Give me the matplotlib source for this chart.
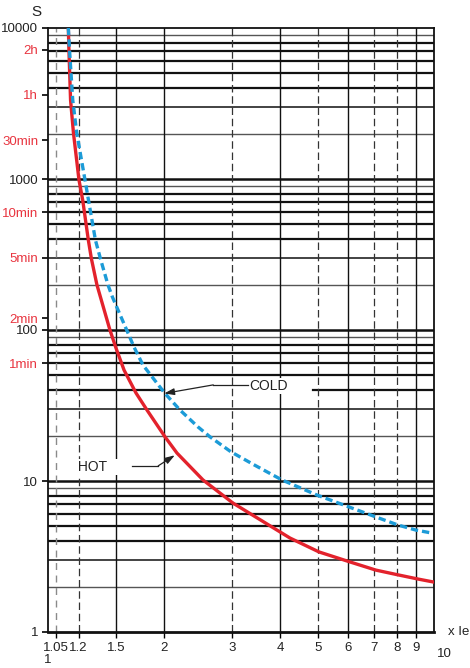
import matplotlib
matplotlib.use("Agg")
import matplotlib.pyplot as plt
import numpy as np

plt.rcParams["font.family"] = ["Liberation Sans Narrow", "Liberation Sans", "DejaVu Sans"]

# multiples of the rated current (x Ie) and trip times (s)
HOT_X = [1.129, 1.133, 1.144, 1.164, 1.203, 1.230, 1.272, 1.296, 1.339, 1.447,
         1.500, 1.574, 1.690, 1.805, 2.010, 2.159, 2.521, 3.015, 4.236, 5.036,
         6.059, 7.07, 8.07, 9.11, 10.0]
HOT_Y = [10000, 7145, 3336, 2017, 985, 726, 394, 295, 199, 100,
         76.0, 54.3, 38.3, 29.5, 19.6, 15.3, 10.16, 7.14, 4.19, 3.39,
         2.91, 2.57, 2.39, 2.24, 2.14]

COLD_X = [1.129, 1.137, 1.159, 1.187, 1.247, 1.273, 1.327, 1.368, 1.430, 1.469,
          1.599, 1.670, 1.762, 2.004, 2.198, 2.447, 2.629, 2.979, 3.418, 4.038,
          4.976, 6.023, 7.07, 8.07, 8.98, 9.88]
COLD_Y = [10000, 7145, 3336, 2017, 985, 726, 394, 295, 199, 165,
          100, 77.2, 58.6, 38.3, 29.5, 22.8, 19.6, 15.6, 12.8, 10.16,
          8.07, 6.73, 5.78, 5.11, 4.73, 4.52]

X_TICKS = [1.05, 1.2, 1.5, 2, 3, 4, 5, 6, 7, 8, 9]
X_DASHED = [1.05, 1.2, 3, 5, 7, 8]
Y_DECADES = [1, 10, 100, 1000, 10000]
TIME_TICKS = [7200, 3600, 1800, 600, 300, 120, 60]
TIME_LABELS = ["2h", "1h", "30min", "10min", "5min", "2min", "1min"]

RED = "#e3222c"
BLUE = "#1c9bd7"
LABEL_RED = "#e8343f"

fig = plt.figure(figsize=(4.70, 6.68), dpi=100)
ax = fig.add_axes([48 / 470, 1 - 632 / 668, 386 / 470, 604 / 668])
ax.set_xscale("log")
ax.set_yscale("log")
ax.set_xlim(1, 10)
ax.set_ylim(1, 10000)

# horizontal grid
for d in [1, 10, 100, 1000]:
    for m in range(1, 10):
        v = d * m
        if v == 1:
            continue
        if m == 1:
            lw, col = 1.8, "#111111"
        elif m in (2, 9):
            lw, col = 1.0, "#555555"
        elif m == 3:
            lw, col = 1.2, "#222222"
        else:
            lw, col = 1.6, "#111111"
        if v == 40:
            ax.axhline(v, xmax=np.log10(2.0), color=col, lw=lw, zorder=1)
            ax.axhline(v, xmin=np.log10(4.86), color=col, lw=lw, zorder=1)
        else:
            ax.axhline(v, color=col, lw=lw, zorder=1)

# vertical grid
for xv in X_TICKS:
    if xv == 1.05:
        ax.axvline(xv, color="#8a8a8a", lw=1.0, ls=(0, (5, 4)), zorder=1)
    elif xv in X_DASHED:
        ax.axvline(xv, color="#333333", lw=0.9, ls=(0, (6, 3)), zorder=1)
    else:
        ax.axvline(xv, color="#111111", lw=1.0, zorder=1)

ax.plot(HOT_X, HOT_Y, color=RED, lw=2.4, zorder=3, solid_joinstyle="round")
ax.plot(COLD_X, COLD_Y, color=BLUE, lw=2.4, dashes=(2.2, 1.2), zorder=4)

# spines
for s in ["left", "right", "top"]:
    ax.spines[s].set_color("#111111")
    ax.spines[s].set_linewidth(1.3)
ax.spines["bottom"].set_color("#111111")
ax.spines["bottom"].set_linewidth(2.0)

# ticks
ax.xaxis.set_minor_locator(matplotlib.ticker.NullLocator())
ax.yaxis.set_minor_locator(matplotlib.ticker.NullLocator())
ax.set_xticks(X_TICKS)
ax.set_xticklabels([str(v) for v in X_TICKS], fontsize=9.5, color="#222222")
ax.tick_params(axis="x", direction="out", length=4, width=1.0, pad=3)

yt = Y_DECADES + TIME_TICKS
ylab = [str(v) for v in Y_DECADES] + TIME_LABELS
ax.set_yticks(yt)
ax.set_yticklabels(ylab, fontsize=9.5)
ax.tick_params(axis="y", direction="out", length=4, width=1.2, pad=3)
for lbl, v in zip(ax.get_yticklabels(), yt):
    lbl.set_color(LABEL_RED if v in TIME_TICKS else "#222222")

ax.text(1.0, 0.65, "1", ha="center", va="center", fontsize=9.5, color="#222222")
ax.text(10.2, 0.72, "10", ha="left", va="center", fontsize=9.5, color="#222222")
ax.text(1.035, 0.0, "x Ie", transform=ax.transAxes, ha="left", va="center",
        fontsize=9.5, color="#222222")
ax.text(-0.03, 1.027, "S", transform=ax.transAxes, ha="center", va="center",
        fontsize=11, color="#222222")

# COLD annotation
ax.text(3.32, 42.5, "COLD", ha="left", va="center", fontsize=10, color="#222222",
        bbox=dict(facecolor="white", edgecolor="none", pad=0.5), zorder=5)
ax.plot([3.30, 2.68], [43.3, 43.3], color="#222222", lw=0.9, zorder=5)
ax.annotate("", xy=(2.0, 38.0), xytext=(2.68, 43.3),
            arrowprops=dict(arrowstyle="-|>,head_length=0.6,head_width=0.2",
                            color="#222222", lw=0.9, shrinkA=0, shrinkB=0), zorder=5)

# HOT annotation
ax.text(1.33, 12.4, " HOT   ", ha="center", va="center", fontsize=10, color="#222222",
        bbox=dict(facecolor="white", edgecolor="none", pad=0.5), zorder=5)
ax.plot([1.65, 1.93], [12.6, 12.6], color="#222222", lw=0.9, zorder=5)
ax.annotate("", xy=(2.13, 14.8), xytext=(1.93, 12.6),
            arrowprops=dict(arrowstyle="-|>,head_length=0.6,head_width=0.2",
                            color="#222222", lw=0.9, shrinkA=0, shrinkB=0), zorder=5)

fig.savefig("out.png", dpi=100)
